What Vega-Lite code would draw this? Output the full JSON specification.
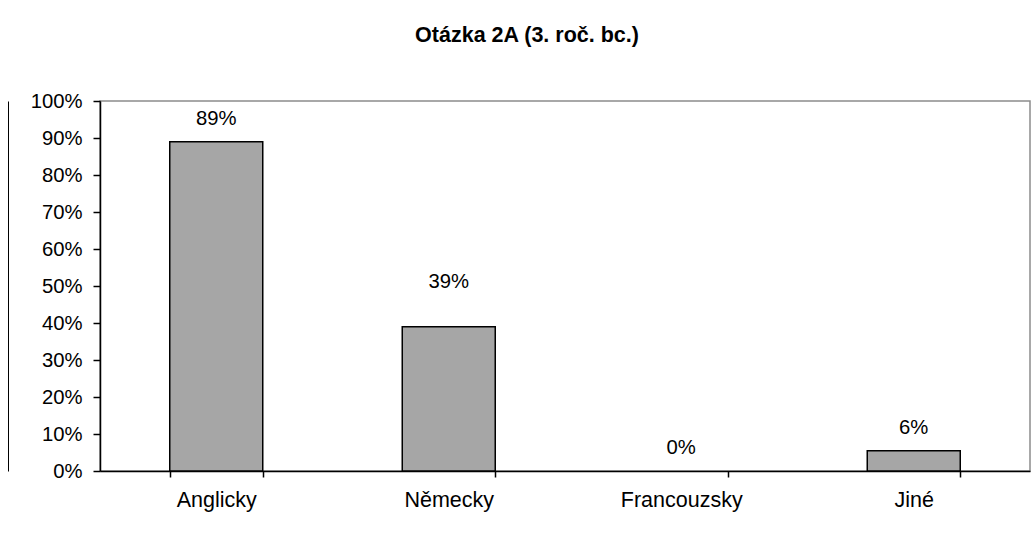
{
  "$schema": "https://vega.github.io/schema/vega-lite/v6.json",
  "width": 930,
  "height": 370,
  "autosize": {"type": "none"},
  "padding": {"left": 100, "top": 101, "right": 2, "bottom": 63},
  "background": "white",
  "config": {
    "font": "Liberation Sans",
    "view": {"stroke": "#8c8c8c", "strokeWidth": 1.5}
  },
  "title": {
    "text": "Otázka 2A (3. roč. bc.)",
    "fontSize": 21.5,
    "fontWeight": "bold",
    "color": "#000000",
    "anchor": "middle",
    "frame": "group",
    "offset": 45,
    "dx": -38
  },
  "data": {
    "values": [
      {"lang": "Anglicky", "value": 0.89, "label": "89%"},
      {"lang": "Německy", "value": 0.39, "label": "39%"},
      {"lang": "Francouzsky", "value": 0, "label": "0%"},
      {"lang": "Jiné", "value": 0.055, "label": "6%"}
    ]
  },
  "encoding": {
    "x": {
      "field": "lang",
      "type": "nominal",
      "sort": null,
      "scale": {"domain": ["Anglicky", "Německy", "Francouzsky", "Jiné"], "paddingInner": 0.6, "paddingOuter": 0.3},
      "axis": {
        "title": null,
        "labelAngle": 0,
        "tickBand": "extent",
        "tickSize": 6,
        "labelPadding": 12,
        "labelFontSize": 21.5,
        "labelColor": "#000000",
        "domainColor": "#000000",
        "tickColor": "#000000",
        "domainWidth": 1.5,
        "tickWidth": 1.5
      }
    }
  },
  "layer": [
    {
      "transform": [{"filter": "datum.value > 0"}],
      "mark": {"type": "bar", "fill": "#a6a6a6", "stroke": "#000000", "strokeWidth": 1.5},
      "encoding": {
        "y": {
          "field": "value",
          "type": "quantitative",
          "scale": {"domain": [0, 1], "nice": false},
          "axis": {
            "title": null,
            "format": ".0%",
            "values": [0, 0.1, 0.2, 0.3, 0.4, 0.5, 0.6, 0.7, 0.8, 0.9, 1],
            "grid": false,
            "tickSize": 7,
            "labelPadding": 11,
            "labelFontSize": 20.3,
            "labelColor": "#000000",
            "domainColor": "#000000",
            "tickColor": "#000000",
            "domainWidth": 1.5,
            "tickWidth": 1.5
          }
        }
      }
    },
    {
      "transform": [{"filter": "datum.lang !== 'Německy'"}],
      "mark": {"type": "text", "fontSize": 20.3, "color": "#000000", "dy": -23, "baseline": "middle"},
      "encoding": {
        "y": {"field": "value", "type": "quantitative", "scale": {"domain": [0, 1], "nice": false}, "axis": null},
        "text": {"field": "label"}
      }
    },
    {
      "transform": [{"filter": "datum.lang === 'Německy'"}],
      "mark": {"type": "text", "fontSize": 20.3, "color": "#000000", "dy": -45, "baseline": "middle"},
      "encoding": {
        "y": {"field": "value", "type": "quantitative", "scale": {"domain": [0, 1], "nice": false}, "axis": null},
        "text": {"field": "label"}
      }
    },
    {
      "mark": {"type": "rule", "opacity": 0},
      "encoding": {
        "y": {
          "field": "value",
          "type": "quantitative",
          "scale": {"domain": [0, 1], "nice": false},
          "axis": {
            "orient": "left",
            "offset": 92,
            "title": null,
            "labels": false,
            "ticks": false,
            "grid": false,
            "domainColor": "#000000",
            "domainWidth": 1
          }
        }
      }
    }
  ],
  "resolve": {"axis": {"y": "independent"}}
}
